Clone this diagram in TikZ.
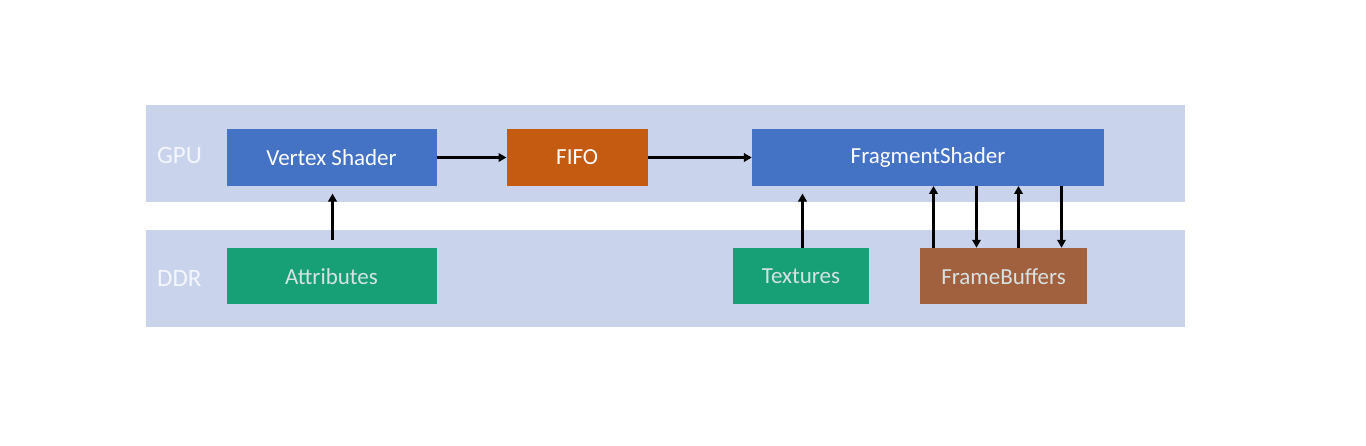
\documentclass[tikz,border=0pt]{standalone}
\usepackage{fontspec}
\setmainfont{Carlito}
\usetikzlibrary{arrows.meta}
\definecolor{band}{HTML}{C9D4EC}
\definecolor{shaderblue}{HTML}{4472C4}
\definecolor{fifoorange}{HTML}{C55A11}
\definecolor{memgreen}{HTML}{179F76}
\definecolor{fbbrown}{HTML}{A1613F}
\definecolor{memtext}{HTML}{D6E2E4}
\definecolor{lanetext}{HTML}{F4F6FB}
\begin{document}
\begin{tikzpicture}[x=1pt,y=-1pt,
  lane/.style={fill=band,draw=none},
  lanelabel/.style={text=lanetext,font=\fontsize{25}{28}\selectfont,anchor=west,inner sep=0},
  block/.style={draw=none,minimum height=56.5pt,inner sep=0,text=white,font=\fontsize{23}{26}\selectfont},
  memblock/.style={block,text=memtext},
  flow/.style={line width=3pt,-{Triangle[length=8pt,width=8.5pt]}}]
  \useasboundingbox (0,0) rectangle (1366,445);
  % memory lanes
  \fill[lane] (146,105) rectangle (1185,201.5);
  \fill[lane] (146,230) rectangle (1185,326.5);
  \node[lanelabel] (gpu) at (157,155) {GPU};
  \node[lanelabel] (ddr) at (157,278) {DDR};
  % GPU blocks
  \node[block,fill=shaderblue,minimum width=210pt] (vs) at (331.5,157.5) {Vertex Shader};
  \node[block,fill=fifoorange,minimum width=141pt] (fifo) at (577.2,157.5) {FIFO};
  \node[block,fill=shaderblue,minimum width=352pt] (fs) at (928,157.5) {FragmentShader};
  % DDR blocks
  \node[memblock,fill=memgreen,minimum width=210pt] (attr) at (331.5,276.2) {Attributes};
  \node[memblock,fill=memgreen,minimum width=135.5pt] (tex) at (801,276.2) {Textures};
  \node[memblock,fill=fbbrown,minimum width=167pt] (fb) at (1003.5,276.2) {FrameBuffers};
  % data flow
  \draw[flow] (vs.east) -- (fifo.west);
  \draw[flow] (fifo.east) -- (fs.west);
  \coordinate (attrtop) at (332.5,240);
  \coordinate (vsin) at (332.5,193.5);
  \draw[flow] (attrtop) -- (vsin);
  \coordinate (texin) at (802.5,193.5);
  \draw[flow] (tex.north -| texin) -- (texin);
  \draw[flow] (fb.north -| 933.5,0) -- (fs.south -| 933.5,0);
  \draw[flow] (fs.south -| 976.5,0) -- (fb.north -| 976.5,0);
  \draw[flow] (fb.north -| 1018.5,0) -- (fs.south -| 1018.5,0);
  \draw[flow] (fs.south -| 1061.5,0) -- (fb.north -| 1061.5,0);
\end{tikzpicture}
\end{document}
